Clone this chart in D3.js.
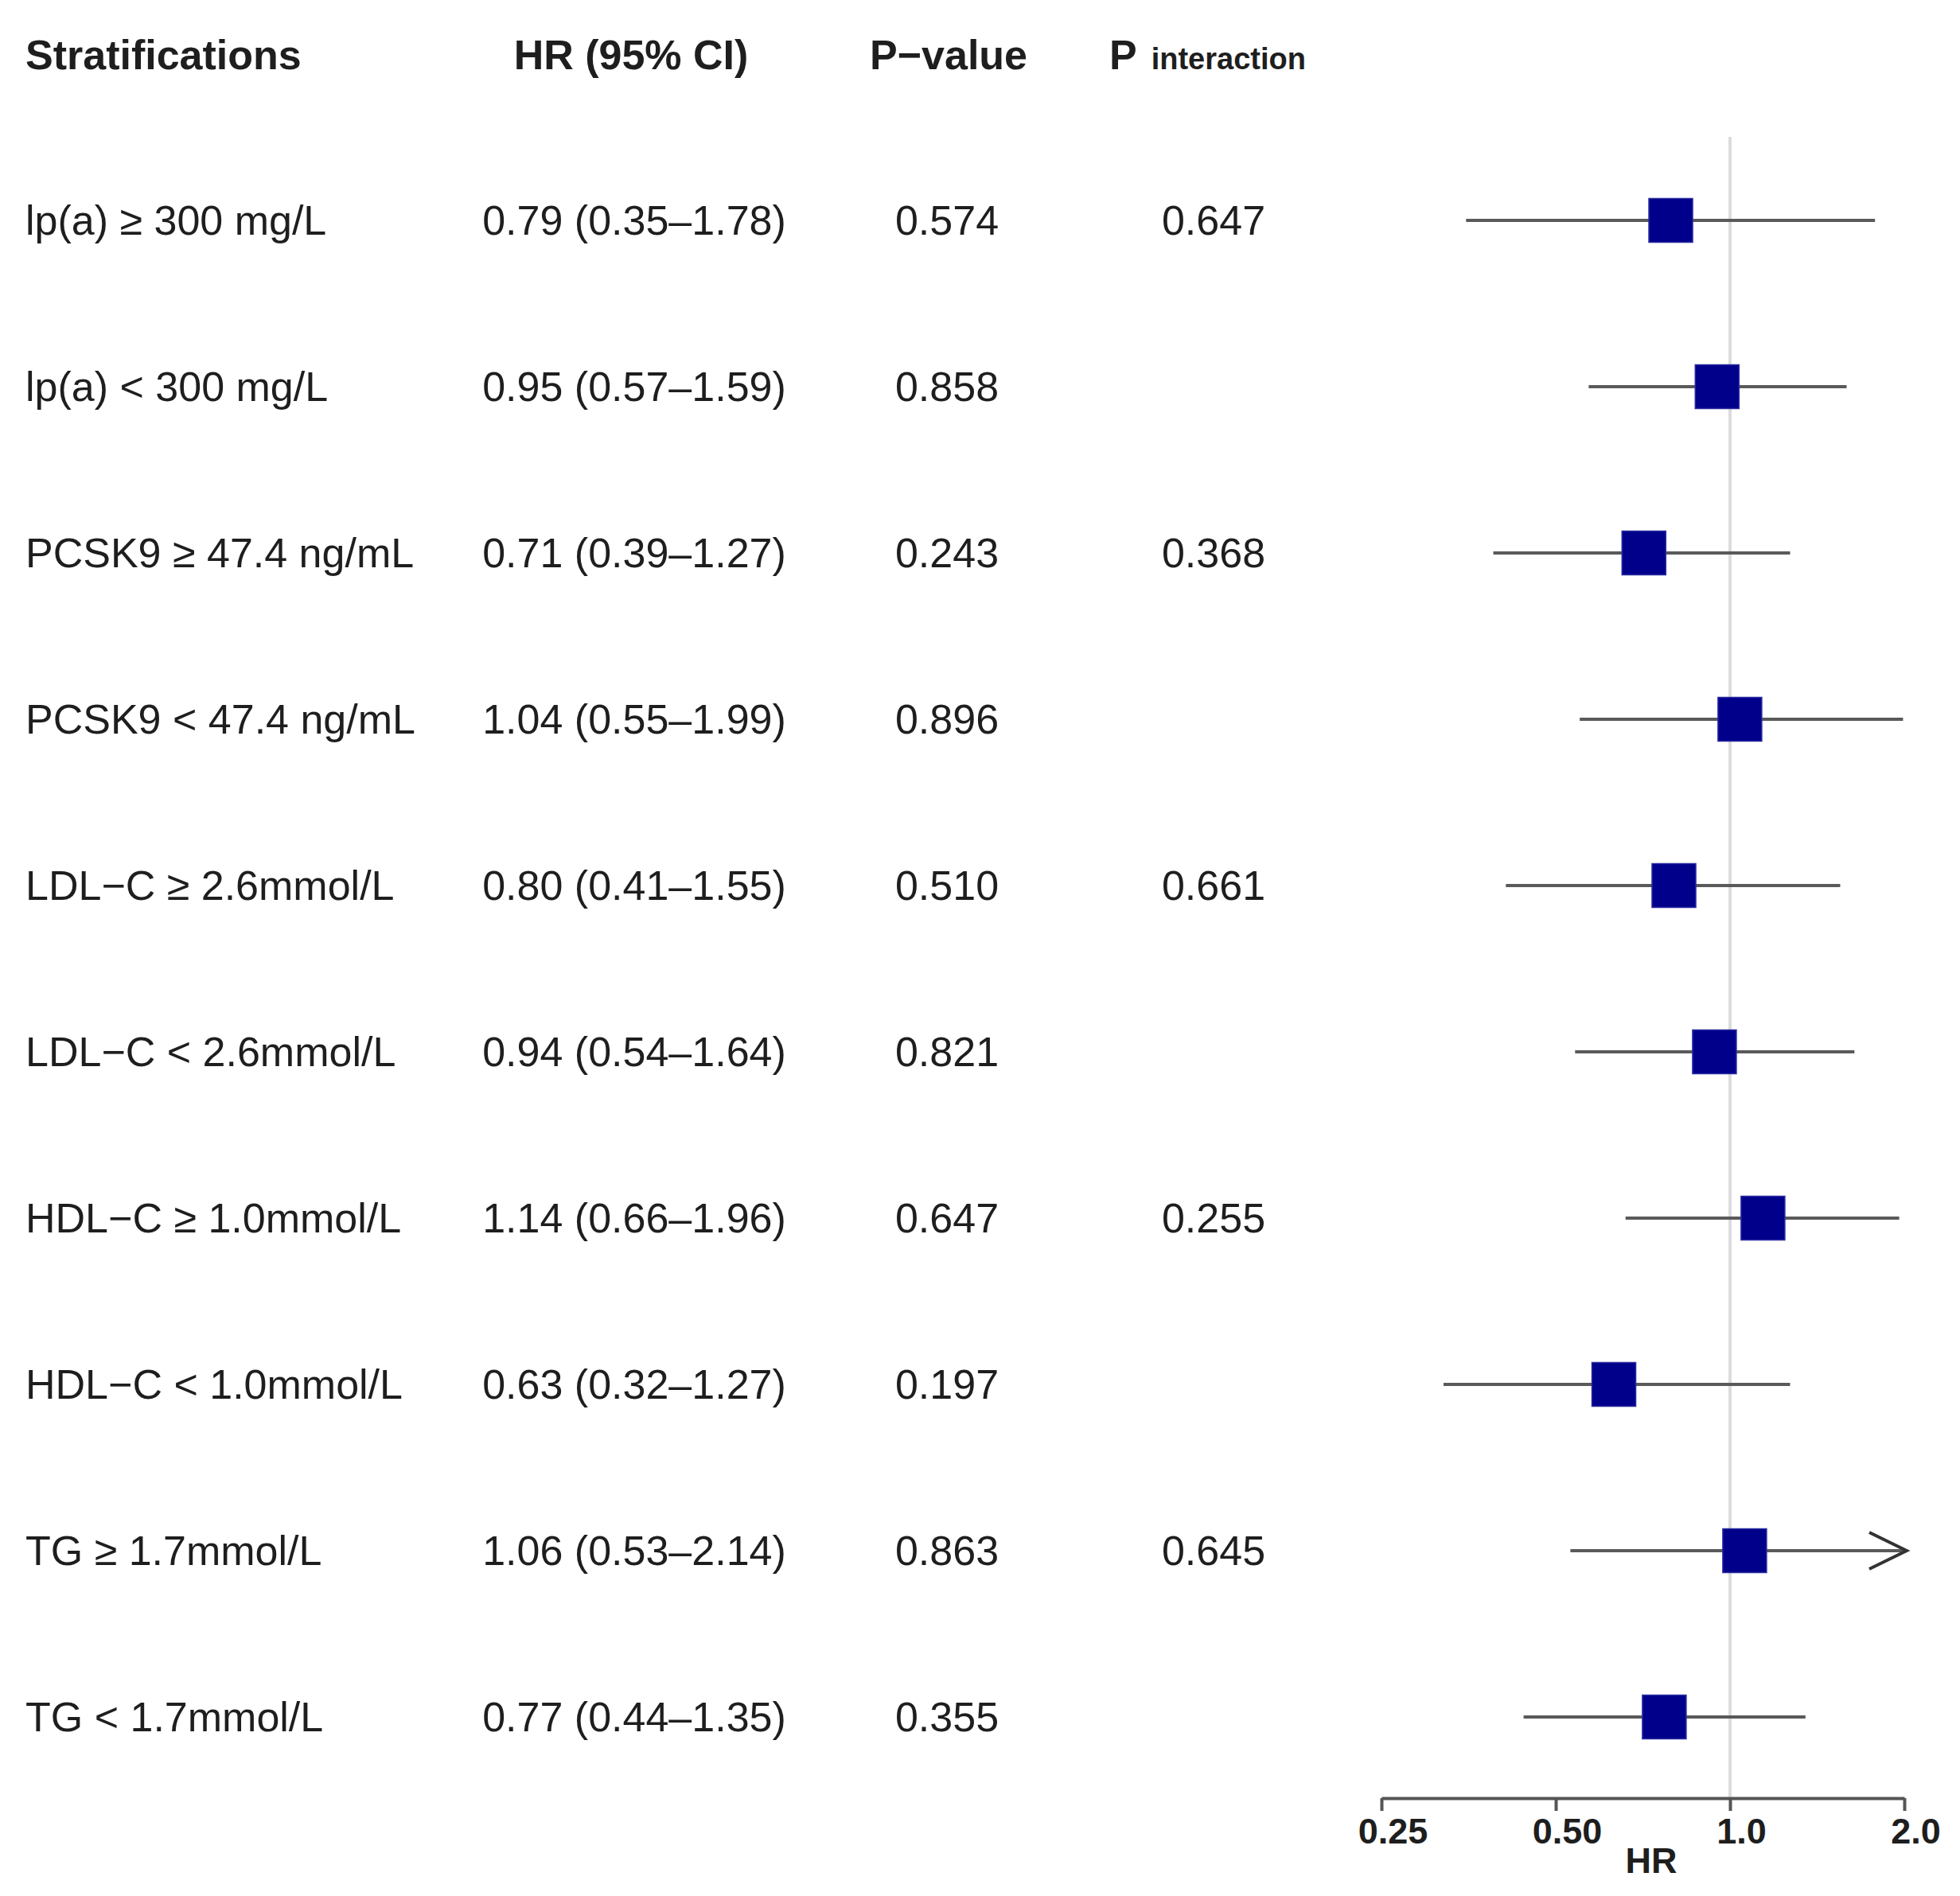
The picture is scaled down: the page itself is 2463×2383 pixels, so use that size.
<!DOCTYPE html>
<html>
<head>
<meta charset="utf-8">
<script src="https://cdn.jsdelivr.net/npm/d3@7"></script>
<style>
  html, body { margin: 0; padding: 0; background: #fff; }
  svg { display: block; }
  text { font-family: "Liberation Sans", Arial, Helvetica, sans-serif; fill: #1e1e1e; }
</style>
</head>
<body>
<script>
// ---- data ----
const labels = ["lp(a) \u2265 300 mg/L", "lp(a) < 300 mg/L", "PCSK9 \u2265 47.4 ng/mL", "PCSK9 < 47.4 ng/mL",
  "LDL\u2212C \u2265 2.6mmol/L", "LDL\u2212C < 2.6mmol/L", "HDL\u2212C \u2265 1.0mmol/L", "HDL\u2212C < 1.0mmol/L",
  "TG \u2265 1.7mmol/L", "TG < 1.7mmol/L"];
const hr    = [0.79, 0.95, 0.71, 1.04, 0.80, 0.94, 1.14, 0.63, 1.06, 0.77];
const lower = [0.35, 0.57, 0.39, 0.55, 0.41, 0.54, 0.66, 0.32, 0.53, 0.44];
const upper = [1.78, 1.59, 1.27, 1.99, 1.55, 1.64, 1.96, 1.27, 2.14, 1.35];
const pValue = ["0.574", "0.858", "0.243", "0.896", "0.510", "0.821", "0.647", "0.197", "0.863", "0.355"];
const pInteraction = ["0.647", "", "0.368", "", "0.661", "", "0.255", "", "0.645", ""];
const tickValues = [0.25, 0.5, 1, 2];
const tickLabels = ["0.25", "0.50", "1.0", "2.0"];

const W = 2463, H = 2383;
const fs = 52;

const svg = d3.select("body").append("svg").attr("width", W).attr("height", H);

const y = d3.scaleLinear().domain([0, labels.length - 1]).range([277, 2158]);
const x = d3.scaleLog().base(2).domain([0.25, 2]).range([1736, 2393]);
const xmax = x.domain()[1];

// ---- header ----
const hdrY = 87;
svg.append("text").attr("x", 32).attr("y", hdrY).attr("font-size", fs).attr("font-weight", "bold").text("Stratifications");
svg.append("text").attr("x", 793).attr("y", hdrY).attr("font-size", fs).attr("font-weight", "bold").attr("text-anchor", "middle").text("HR (95% CI)");
svg.append("text").attr("x", 1192).attr("y", hdrY).attr("font-size", fs).attr("font-weight", "bold").attr("text-anchor", "middle").text("P\u2212value");
const pi = svg.append("text").attr("x", 1394).attr("y", hdrY).attr("font-weight", "bold");
pi.append("tspan").attr("font-size", fs).text("P");
pi.append("tspan").attr("font-size", 38).attr("dx", 18).text("interaction");

// ---- rows text ----
const idx = d3.range(labels.length);
const fmt = d3.format(".2f");
const rows = svg.append("g");
rows.selectAll("text.lab").data(idx).join("text").attr("class", "lab")
  .attr("x", 32).attr("y", i => y(i) + 18).attr("font-size", fs).text(i => labels[i]);
rows.selectAll("text.hr").data(idx).join("text").attr("class", "hr")
  .attr("x", 797).attr("y", i => y(i) + 18).attr("font-size", fs).attr("text-anchor", "middle")
  .text(i => `${fmt(hr[i])} (${fmt(lower[i])}\u2013${fmt(upper[i])})`);
rows.selectAll("text.pv").data(idx).join("text").attr("class", "pv")
  .attr("x", 1190).attr("y", i => y(i) + 18).attr("font-size", fs).attr("text-anchor", "middle")
  .text(i => pValue[i]);
rows.selectAll("text.pi").data(idx.filter(i => pInteraction[i] !== "")).join("text").attr("class", "pi")
  .attr("x", 1525).attr("y", i => y(i) + 18).attr("font-size", fs).attr("text-anchor", "middle")
  .text(i => pInteraction[i]);

// ---- reference line ----
const axisY = 2260;
svg.append("line").attr("x1", x(1)).attr("x2", x(1)).attr("y1", 172).attr("y2", axisY)
  .attr("stroke", "#dcdcdc").attr("stroke-width", 4);

// ---- CI lines ----
const plot = svg.append("g");
plot.selectAll("line.ci").data(idx).join("line").attr("class", "ci")
  .attr("x1", i => x(Math.max(lower[i], x.domain()[0])))
  .attr("x2", i => x(Math.min(upper[i], xmax)))
  .attr("y1", i => y(i)).attr("y2", i => y(i))
  .attr("stroke", "#5a5a5a").attr("stroke-width", 4);

// arrows for truncated CIs
plot.selectAll("path.arrow").data(idx.filter(i => upper[i] > xmax)).join("path").attr("class", "arrow")
  .attr("d", i => {
    const tx = x(xmax) + 3, ty = y(i);
    return `M${tx - 47},${ty - 23} L${tx},${ty} L${tx - 47},${ty + 23}`;
  })
  .attr("fill", "none").attr("stroke", "#333").attr("stroke-width", 4);

// boxes
const bs = 55;
plot.selectAll("rect.box").data(idx).join("rect").attr("class", "box")
  .attr("x", i => x(hr[i]) - bs / 2).attr("y", i => y(i) - bs / 2)
  .attr("width", bs).attr("height", bs)
  .attr("fill", "#00008B").attr("stroke", "#2a2aa0").attr("stroke-width", 1.5);

// ---- axis ----
const axis = d3.axisBottom(x).tickValues(tickValues).tickFormat((d, i) => tickLabels[i]).tickSize(16).tickSizeOuter(0);
const ag = svg.append("g").attr("transform", `translate(0,${axisY})`).call(axis);
ag.select(".domain").attr("stroke", "#555").attr("stroke-width", 4);
ag.selectAll(".tick line").attr("stroke", "#555").attr("stroke-width", 4);
ag.selectAll(".tick text").attr("font-size", 45).attr("font-weight", "bold")
  .attr("dy", null).attr("y", 57).attr("dx", 14)
  .style("font-family", '"Liberation Sans", Arial, sans-serif').attr("fill", "#1e1e1e");
svg.append("text").attr("x", 2075).attr("y", 2354).attr("font-size", 45).attr("font-weight", "bold")
  .attr("text-anchor", "middle").text("HR");
</script>
</body>
</html>
